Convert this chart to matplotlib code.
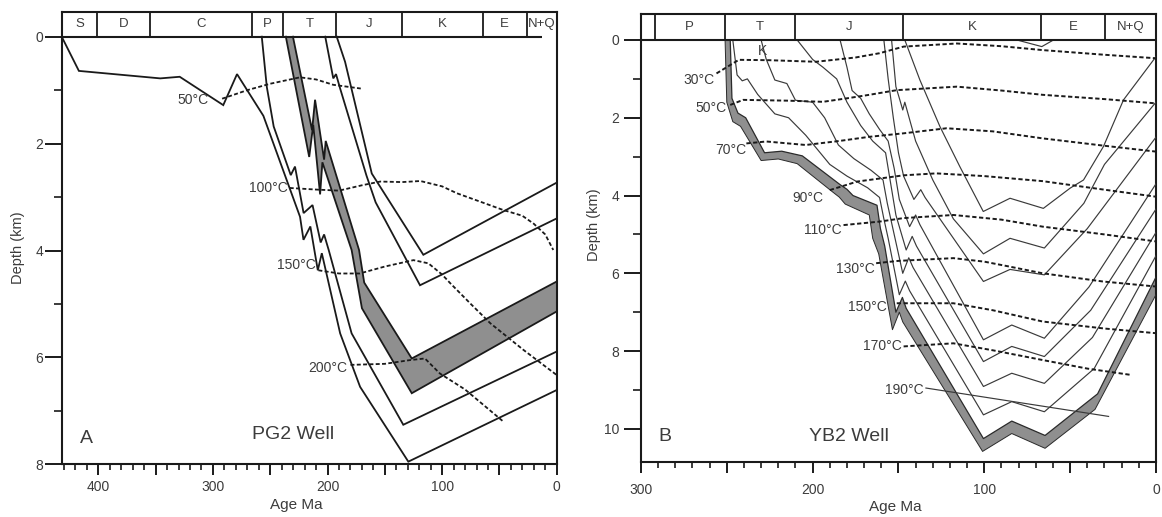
import matplotlib
matplotlib.use('Agg')
import matplotlib.pyplot as plt
import numpy as np

plt.rcParams['font.family'] = ['Liberation Sans', 'DejaVu Sans']
plt.rcParams['axes.linewidth'] = 1.5

TXT = '#3c3c3c'
INK = '#1a1a1a'
SHADE = '#8f8f8f'

# ================= Panel A : PG2 Well =================
periods_A = ['S', 'D', 'C', 'P', 'T', 'J', 'K', 'E', 'N+Q']
period_bounds_A = [432, 401, 355, 266, 239, 192.5, 135, 64.6, 26, 0]

a_line1_age = [432, 417, 346, 329, 291, 279, 256, 224, 221, 215, 208.5, 205, 189, 171.6, 129.5, 0]
a_line1_dep = [0, 0.64, 0.78, 0.75, 1.28, 0.70, 1.48, 3.37, 3.80, 3.55, 4.37, 4.05, 5.55, 6.55, 7.95, 6.61]
a_line2_age = [257.4, 253, 247, 232.1, 228.4, 220.9, 213.1, 206, 203, 199, 179, 133.9, 0]
a_line2_dep = [0, 0.94, 1.68, 2.59, 2.43, 3.30, 3.15, 3.85, 3.70, 3.99, 5.55, 7.26, 5.89]
a_band_bot_age = [236.4, 216, 212.5, 206.5, 204.5, 179, 170, 126.5, 0]
a_band_bot_dep = [0, 2.25, 1.65, 2.95, 2.35, 3.99, 5.08, 6.67, 5.14]
a_band_top_age = [230.2, 213.5, 210.9, 203, 201.6, 172.5, 168, 126.5, 0]
a_band_top_dep = [0, 1.75, 1.18, 2.30, 1.95, 3.99, 4.60, 6.02, 4.58]
a_line5_age = [202, 195, 192.6, 189, 166, 158, 119.3, 0]
a_line5_dep = [0, 0.78, 0.70, 0.97, 2.60, 3.10, 4.65, 3.40]
a_line6_age = [192, 184.7, 161.4, 116.4, 0]
a_line6_dep = [0, 0.47, 2.56, 4.08, 2.73]

a_iso_labels = ['50°C', '100°C', '150°C', '200°C']
a_iso_label_age = [304, 235, 210, 183]
a_iso_label_dep = [1.18, 2.84, 4.27, 6.20]
a_iso50_age = [292, 270, 250, 224, 210, 195, 171]
a_iso50_dep = [1.16, 1.00, 0.88, 0.76, 0.80, 0.90, 0.97]
a_iso100_age = [233, 210, 190, 170, 154, 135, 119, 100, 87, 65, 47, 30, 20, 10, 3]
a_iso100_dep = [2.83, 2.86, 2.88, 2.78, 2.71, 2.72, 2.70, 2.80, 2.93, 3.10, 3.24, 3.35, 3.50, 3.70, 3.99]
a_iso150_age = [208, 190, 172, 150, 125, 112, 100, 93, 75, 58, 29, 0]
a_iso150_dep = [4.37, 4.43, 4.43, 4.30, 4.18, 4.24, 4.45, 4.61, 5.00, 5.36, 5.86, 6.33]
a_iso200_age = [180, 150, 128, 115, 102, 80, 46.6]
a_iso200_dep = [6.14, 6.12, 6.05, 6.02, 6.30, 6.60, 7.20]

# ================= Panel B : YB2 Well =================
periods_B = ['', 'P', 'T', 'J', 'K', 'E', 'N+Q']
period_bounds_B = [300, 292, 251.3, 210.4, 147.2, 66.9, 29.6, 0]

b_band_top_age = [248, 247, 243.5, 239, 228, 218, 206, 184, 180, 176.5, 162.5, 160.5, 158, 151.5, 147.7, 145.5, 100.5, 84, 64.6, 34, 0]
b_band_top_dep = [0, 1.5, 1.88, 2.0, 2.9, 2.86, 2.98, 3.72, 3.84, 4.0, 4.25, 4.85, 5.3, 7.0, 6.62, 6.9, 10.25, 9.8, 10.17, 9.1, 6.1]
b_band_bot_age = [251, 250, 246.5, 242, 230, 220, 209, 188, 184.5, 181, 167, 165, 161.5, 153.5, 149.5, 147.5, 101, 84, 64.6, 35.5, 0]
b_band_bot_dep = [0, 1.6, 2.1, 2.22, 3.1, 3.06, 3.18, 3.92, 4.04, 4.22, 4.5, 5.1, 5.5, 7.45, 7.0, 7.25, 10.58, 10.12, 10.5, 9.5, 6.55]

b_tl1_age = [246.5, 244, 241, 238, 232, 222, 214, 204, 190, 180, 168, 161, 158.5, 156, 149.5, 146, 143.5, 100.5, 84, 65, 36, 0]
b_tl1_dep = [0, 0.9, 1.05, 1.0, 1.4, 1.9, 2.0, 2.45, 3.2, 3.5, 3.8, 4.05, 4.6, 5.1, 6.55, 6.2, 6.45, 9.64, 9.3, 9.56, 8.45, 5.55]
b_tl2_age = [230, 227, 222, 215, 210, 200, 193, 185, 176, 166, 159, 156.5, 153.5, 147.5, 144, 141.5, 100.5, 84, 65, 37, 0]
b_tl2_dep = [0, 0.5, 1.03, 1.12, 1.55, 1.6, 2.0, 2.7, 3.05, 3.35, 3.6, 4.2, 4.8, 6.0, 5.6, 5.85, 8.91, 8.57, 8.83, 7.65, 4.95]
b_tl3_age = [209, 200, 194, 186, 180, 172, 165, 157.5, 154.5, 151.5, 145.5, 142, 139.5, 100.5, 84, 65, 38, 0]
b_tl3_dep = [0, 0.5, 0.7, 1.0, 1.6, 2.2, 2.6, 2.9, 3.7, 4.5, 5.4, 5.05, 5.3, 8.27, 7.88, 8.14, 6.95, 4.35]
b_tl4_age = [184, 180, 177, 172, 167, 161, 156, 152.5, 149.5, 143.5, 140, 137.5, 100.5, 84, 65, 39, 0]
b_tl4_dep = [0, 0.7, 1.3, 1.5, 1.9, 2.3, 2.6, 3.3, 4.1, 4.8, 4.5, 4.75, 7.71, 7.33, 7.67, 6.35, 3.7]
b_tl5_age = [158.5, 156, 153, 150, 147, 141, 137, 134.5, 100.5, 85, 65, 40, 0]
b_tl5_dep = [0, 1.0, 2.0, 2.9, 3.5, 4.1, 3.85, 4.05, 6.21, 5.9, 6.04, 4.85, 2.5]
b_tl6_age = [154, 151.5, 149.2, 147.5, 146.3, 140, 130, 118, 100.5, 85, 65, 42, 30, 0]
b_tl6_dep = [0, 1.2, 1.54, 1.80, 1.6, 2.6, 3.6, 4.6, 5.5, 5.1, 5.35, 4.2, 3.2, 1.6]
b_tl7_age = [146.3, 137.5, 125.8, 114.2, 100.6, 85, 65.6, 50, 42.2, 30.6, 18.9, 0]
b_tl7_dep = [0, 1.03, 2.23, 3.26, 4.41, 4.07, 4.33, 3.81, 3.6, 2.74, 1.54, 0.43]
b_tl8_age = [81, 66.5, 59.7]
b_tl8_dep = [0, 0.17, 0]

b_iso_labels = ['30°C', '50°C', '70°C', '90°C', '110°C', '130°C', '150°C', '170°C', '190°C']
b_iso_label_age = [257, 250.3, 238.6, 193.9, 183.2, 163.8, 157, 148.2, 135.6]
b_iso_label_dep = [1.03, 1.76, 2.83, 4.07, 4.88, 5.90, 6.87, 7.88, 9.00]
b_iso30_age = [256, 243, 225, 198, 175, 161, 147, 116, 90, 66, 30, 0]
b_iso30_dep = [0.86, 0.51, 0.52, 0.56, 0.45, 0.34, 0.17, 0.09, 0.16, 0.26, 0.38, 0.47]
b_iso50_age = [248, 240.5, 215, 194, 180, 167, 151, 116, 90, 66, 30, 0]
b_iso50_dep = [1.67, 1.54, 1.56, 1.59, 1.50, 1.41, 1.29, 1.20, 1.30, 1.41, 1.52, 1.63]
b_iso70_age = [238.6, 227, 204, 185, 167, 147, 122, 95, 66, 30, 0]
b_iso70_dep = [2.66, 2.61, 2.70, 2.60, 2.49, 2.40, 2.27, 2.35, 2.53, 2.72, 2.87]
b_iso90_age = [190, 174, 147, 128, 100, 66, 30, 0]
b_iso90_dep = [3.86, 3.64, 3.48, 3.43, 3.50, 3.63, 3.85, 4.03]
b_iso110_age = [182, 161, 147, 118, 90, 66, 30, 0]
b_iso110_dep = [4.76, 4.67, 4.58, 4.50, 4.62, 4.80, 5.00, 5.18]
b_iso130_age = [163, 150, 118, 100, 85, 66, 31, 0]
b_iso130_dep = [5.74, 5.68, 5.61, 5.70, 5.83, 6.00, 6.21, 6.34]
b_iso150_age = [151, 118, 95, 66, 30, 0]
b_iso150_dep = [6.77, 6.77, 6.95, 7.24, 7.42, 7.54]
b_iso170_age = [147, 118, 95, 66, 40, 15]
b_iso170_dep = [7.88, 7.80, 7.98, 8.23, 8.45, 8.61]
b_iso190_age = [134, 27.6]
b_iso190_dep = [8.95, 9.68]

xticks_A = [0, 50, 100, 150, 200, 250, 300, 350, 400]
xticklabels_A = ['0', '', '100', '', '200', '', '300', '', '400']
xticks_B = [0, 50, 100, 150, 200, 250, 300]
xticklabels_B = ['0', '', '100', '', '200', '', '300']
yticks_A = [0, 2, 4, 6, 8]
yticks_B = [0, 2, 4, 6, 8, 10]

# ================= Figure =================
fig = plt.figure(figsize=(11.62, 5.17), dpi=100)
axA = fig.add_axes([0.0531, 0.1019, 0.4260, 0.8749])
axB = fig.add_axes([0.5516, 0.1058, 0.4432, 0.8671])

DASH = (0, (2.2, 1.3))


def style_axes(ax, xmax, ymax, box_top, xt, xtl, yt, xpad, ypad):
    ax.set_xlim(xmax, 0)
    ax.set_ylim(ymax, box_top)
    ax.set_xticks(xt)
    ax.set_xticklabels(xtl)
    ax.set_xticks(np.arange(0, xmax, 10), minor=True)
    ax.set_yticks(yt)
    ax.set_yticklabels([str(v) for v in yt])
    ax.set_yticks(np.arange(1, ymax, 2), minor=True)
    ax.tick_params(axis='x', which='major', direction='out', length=8, width=1.4,
                   color=INK, labelcolor=TXT, labelsize=10, pad=xpad)
    ax.tick_params(axis='x', which='minor', direction='out', length=4.5, width=1.2, color=INK)
    ax.tick_params(axis='y', which='major', direction='out', length=12, width=1.4,
                   color=INK, labelcolor=TXT, labelsize=10, pad=ypad)
    ax.tick_params(axis='y', which='minor', direction='out', length=5.5, width=1.2, color=INK)
    for s in ax.spines.values():
        s.set_color(INK)


def period_box(ax, names, bounds, box_top, line_end):
    ax.hlines(0, bounds[0], line_end, color=INK, lw=1.5, zorder=5)
    ax.vlines(bounds[1:-1], box_top, 0, color=INK, lw=1.3, zorder=5)
    for i, name in enumerate(names):
        ax.text((bounds[i] + bounds[i + 1]) / 2, box_top / 2, name, ha='center', va='center',
                fontsize=9.5, color=TXT)


# ----- Panel A drawing -----
boxA = -0.462
style_axes(axA, 432, 8, boxA, xticks_A, xticklabels_A, yticks_A, 3, 1.5)
period_box(axA, periods_A, period_bounds_A, boxA, 12.8)

axA.fill(a_band_bot_age + a_band_top_age[::-1], a_band_bot_dep + a_band_top_dep[::-1],
         color=SHADE, lw=0, zorder=1)
for ag, dp in [(a_line1_age, a_line1_dep), (a_line2_age, a_line2_dep),
               (a_band_bot_age, a_band_bot_dep), (a_band_top_age, a_band_top_dep),
               (a_line5_age, a_line5_dep), (a_line6_age, a_line6_dep)]:
    axA.plot(ag, dp, color=INK, lw=1.3, zorder=3, solid_joinstyle='miter')
for ag, dp in [(a_iso50_age, a_iso50_dep), (a_iso100_age, a_iso100_dep),
               (a_iso150_age, a_iso150_dep), (a_iso200_age, a_iso200_dep)]:
    axA.plot(ag, dp, color=INK, lw=1.3, linestyle=DASH, zorder=4)
for lab, ag, dp in zip(a_iso_labels, a_iso_label_age, a_iso_label_dep):
    axA.text(ag, dp, lab, ha='right', va='center', fontsize=10, color=TXT, zorder=6)

axA.text(410, 7.52, 'A', ha='center', va='center', fontsize=14, color=TXT)
axA.text(230, 7.45, 'PG2 Well', ha='center', va='center', fontsize=14, color=TXT)
axA.set_xlabel('Age Ma', fontsize=11, color=TXT)
axA.xaxis.set_label_coords(0.473, -0.075)
axA.set_ylabel('Depth (km)', fontsize=10.5, color=TXT)
axA.yaxis.set_label_coords(-0.074, 0.478)

# ----- Panel B drawing -----
boxB = -0.668
style_axes(axB, 300, 10.86, boxB, xticks_B, xticklabels_B, yticks_B, 7, 3.6)
period_box(axB, periods_B, period_bounds_B, boxB, 0)

axB.fill(b_band_bot_age + b_band_top_age[::-1], b_band_bot_dep + b_band_top_dep[::-1],
         color=SHADE, lw=0, zorder=1)
axB.plot(b_band_top_age, b_band_top_dep, color='#2a2a2a', lw=0.9, zorder=3)
axB.plot(b_band_bot_age, b_band_bot_dep, color='#2a2a2a', lw=0.7, zorder=3)
for ag, dp in [(b_tl1_age, b_tl1_dep), (b_tl2_age, b_tl2_dep), (b_tl3_age, b_tl3_dep),
               (b_tl4_age, b_tl4_dep), (b_tl5_age, b_tl5_dep), (b_tl6_age, b_tl6_dep),
               (b_tl7_age, b_tl7_dep), (b_tl8_age, b_tl8_dep)]:
    axB.plot(ag, dp, color='#3a3a3a', lw=0.85, zorder=3)
for ag, dp in [(b_iso30_age, b_iso30_dep), (b_iso50_age, b_iso50_dep), (b_iso70_age, b_iso70_dep),
               (b_iso90_age, b_iso90_dep), (b_iso110_age, b_iso110_dep), (b_iso130_age, b_iso130_dep),
               (b_iso150_age, b_iso150_dep), (b_iso170_age, b_iso170_dep)]:
    axB.plot(ag, dp, color=INK, lw=1.4, linestyle=DASH, zorder=4)
axB.plot(b_iso190_age, b_iso190_dep, color='#3a3a3a', lw=0.85, zorder=4)
for lab, ag, dp in zip(b_iso_labels, b_iso_label_age, b_iso_label_dep):
    axB.text(ag, dp, lab, ha='right', va='center', fontsize=10, color=TXT, zorder=6)

axB.text(229, 0.28, 'K', ha='center', va='center', fontsize=10, color=TXT)
axB.text(286.3, 10.2, 'B', ha='center', va='center', fontsize=14, color=TXT)
axB.text(179, 10.2, 'YB2 Well', ha='center', va='center', fontsize=14, color=TXT)
axB.set_xlabel('Age Ma', fontsize=11, color=TXT)
axB.xaxis.set_label_coords(0.493, -0.084)
axB.set_ylabel('Depth (km)', fontsize=10.5, color=TXT)
axB.yaxis.set_label_coords(-0.078, 0.529)

fig.savefig('out.png', dpi=100)
